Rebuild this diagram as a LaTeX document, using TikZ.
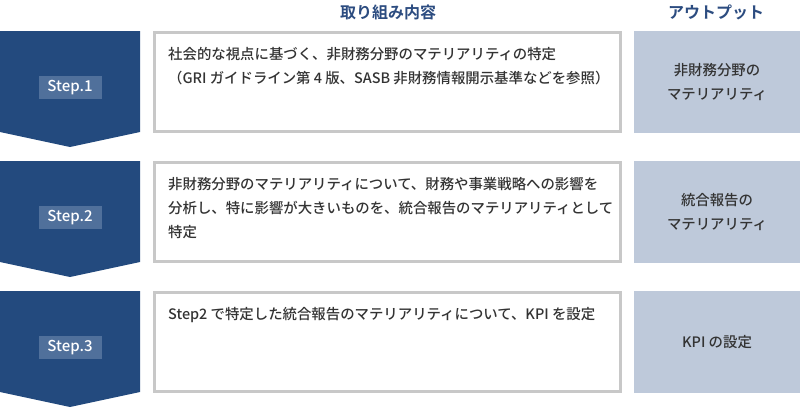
\documentclass[tikz,border=0pt]{standalone}
\usepackage{fontspec}
\setmainfont{Noto Sans CJK JP}[UprightFont={* Medium},BoldFont={* Bold}]
\usepackage{tikz}
\definecolor{stepblue}{HTML}{234A7E}
\definecolor{labelblue}{HTML}{50709B}
\definecolor{outblue}{HTML}{BEC9DA}
\definecolor{framegray}{HTML}{C8C8C8}
\definecolor{headblue}{HTML}{2C4C80}
\definecolor{textgray}{HTML}{333333}
\tikzset{
  head/.style={font=\fontsize{16}{18}\selectfont\bfseries,text=headblue},
  steplabel/.style={fill=labelblue,text=white,minimum width=63,minimum height=23,inner sep=0,font=\fontsize{15}{16}\selectfont},
  worktext/.style={anchor=north west,inner sep=0,align=left,text=textgray,font=\fontsize{14.4}{24}\selectfont},
  outtext/.style={align=center,inner sep=0,text=textgray,font=\fontsize{14.4}{24}\selectfont}
}
\begin{document}
\begin{tikzpicture}[x=1pt,y=-1pt]
    \useasboundingbox (0,0) rectangle (800,410);
    \node[head] (headwork) at (388,12) {取り組み内容};
    \node[head] (headout) at (716,12) {アウトプット};
    \foreach \i/\y/\work/\out in {
      1/31/{社会的な視点に基づく、非財務分野のマテリアリティの特定\\（GRI ガイドライン第 4 版、SASB 非財務情報開示基準などを参照）}/{非財務分野の\\マテリアリティ},
      2/161/{非財務分野のマテリアリティについて、財務や事業戦略への影響を\\分析し、特に影響が大きいものを、統合報告のマテリアリティとして\\特定}/{統合報告の\\マテリアリティ},
      3/291/{Step2 で特定した統合報告のマテリアリティについて、KPI を設定}/{KPI の設定}}
    {
      \fill[stepblue] (0,\y) -- (140,\y) -- (140,\y+101) -- (70,\y+116) -- (0,\y+101) -- cycle;
      \node[steplabel] (step\i) at (70,\y+56.5) {Step.\i};
      \draw[framegray,line width=3] (154.5,\y+1.5) rectangle (620.5,\y+100.5);
      \node[worktext] (work\i) at (168,\y+16) {\work};
      \fill[outblue] (634,\y) rectangle (800,\y+102);
      \node[outtext] (out\i) at (717,\y+51) {\out};
    }
  \end{tikzpicture}
\end{document}
